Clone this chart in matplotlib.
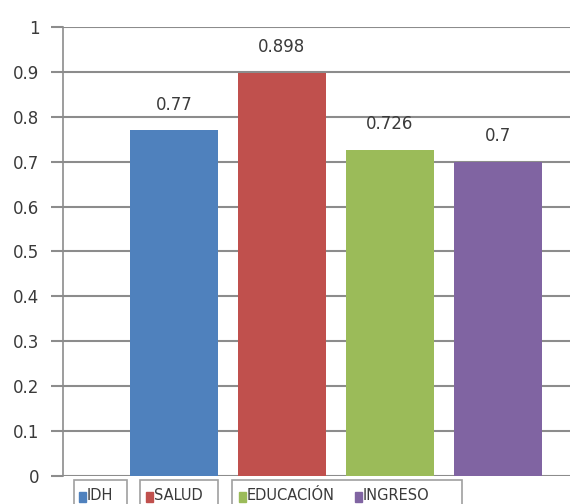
import matplotlib
matplotlib.use("Agg")
import matplotlib.pyplot as plt
from matplotlib.patches import Rectangle

categories = ["IDH", "SALUD", "EDUCACIÓN", "INGRESO"]
values = [0.77, 0.898, 0.726, 0.7]
value_labels = ["0.77", "0.898", "0.726", "0.7"]
colors = ["#4F81BD", "#C0504D", "#9BBB59", "#8064A2"]
yticks = [0, 0.1, 0.2, 0.3, 0.4, 0.5, 0.6, 0.7, 0.8, 0.9, 1]
ytick_labels = ["0", "0.1", "0.2", "0.3", "0.4", "0.5", "0.6", "0.7", "0.8", "0.9", "1"]

plt.rcParams['font.family'] = ['DejaVu Sans']
txt = "#3a3a3a"
grid = "#8c8c8c"
W, H = 570, 504

fig = plt.figure(figsize=(5.7, 5.04), dpi=100)
ax = fig.add_axes([63 / W, 28 / H, 1 - 63 / W, (476 - 27) / H])

xpos = [1, 2, 3, 4]
ax.bar(xpos, values, width=0.815, color=colors, zorder=3)
for x, v, lab in zip(xpos, values, value_labels):
    ax.annotate(lab, (x, v), xytext=(0, 12), textcoords="offset points",
                ha="center", va="bottom", fontsize=12, color=txt)

ax.set_xlim(-0.028, 4.67)
ax.set_ylim(0, 1)
ax.set_yticks(yticks)
ax.set_yticklabels(ytick_labels, fontsize=12, color=txt)
ax.set_xticks([])
ax.tick_params(axis="y", length=9, width=1.5, color=grid, pad=8)
ax.yaxis.grid(True, color=grid, linewidth=1.5, zorder=0)
for s in ["top", "right", "bottom"]:
    ax.spines[s].set_visible(False)
ax.spines["left"].set_color(grid)
ax.spines["left"].set_linewidth(1.2)
ax.set_axisbelow(True)

# legend drawn as separate boxes (pixel layout), cut by the bottom edge
boxes = [(74, 127), (140, 218), (232, 462)]
for left, right in boxes:
    fig.patches.append(Rectangle((left / W, -0.02), (right - left) / W, 0.02 + (H - 480) / H,
                                 transform=fig.transFigure, fill=False,
                                 edgecolor="#a0a0a0", linewidth=1.2))
item_x = [79, 146, 239, 355]
for cat, col, x0 in zip(categories, colors, item_x):
    fig.patches.append(Rectangle((x0 / W, (H - 502) / H), 7 / W, 10 / H,
                                 transform=fig.transFigure, color=col))
    fig.text((x0 + 8) / W, (H - 496) / H, cat, fontsize=10.5, color=txt,
             ha="left", va="center")

fig.savefig("out.png", dpi=100)
